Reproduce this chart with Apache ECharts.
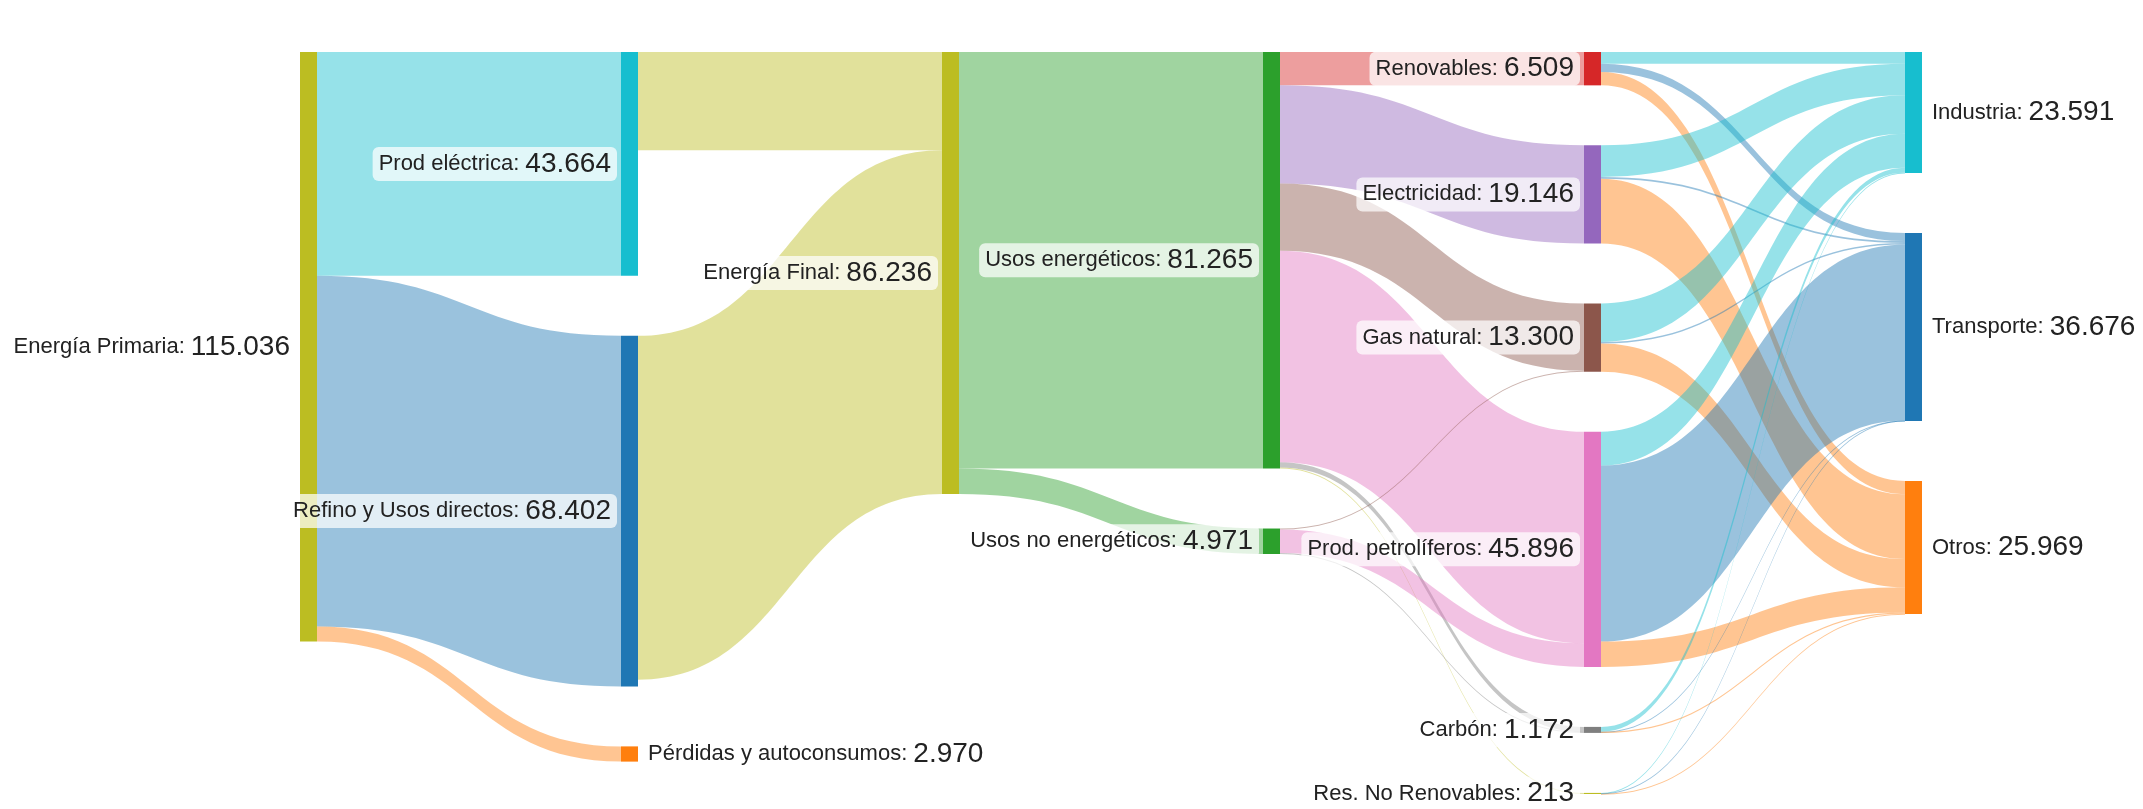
<!DOCTYPE html>
<html>
<head>
<meta charset="UTF-8">
<title>Balance energético</title>
<style>
    html, body { margin: 0; padding: 0; background: #fff; }
    #chartArea { width: 2143px; height: 809px; }
</style>
</head>
<body>
<div id="chartArea"></div>
<script src="https://cdn.jsdelivr.net/npm/echarts@6/dist/echarts.min.js"></script>
<script>
// nodes (ktep), listed column by column, top to bottom
var nodeNames = ['Energía Primaria', 'Prod eléctrica', 'Refino y Usos directos', 'Pérdidas y autoconsumos',
    'Energía Final', 'Usos energéticos', 'Usos no energéticos',
    'Renovables', 'Electricidad', 'Gas natural', 'Prod. petrolíferos', 'Carbón', 'Res. No Renovables',
    'Industria', 'Transporte', 'Otros'];
var nodeValues = [115036, 43664, 68402, 2970, 86236, 81265, 4971,
    6509, 19146, 13300, 45896, 1172, 213, 23591, 36676, 25969];

// links
var linkSources = [
    'Energía Primaria', 'Energía Primaria', 'Energía Primaria',
    'Prod eléctrica', 'Refino y Usos directos',
    'Energía Final', 'Energía Final',
    'Usos energéticos', 'Usos energéticos', 'Usos energéticos', 'Usos energéticos', 'Usos energéticos', 'Usos energéticos',
    'Usos no energéticos', 'Usos no energéticos', 'Usos no energéticos',
    'Renovables', 'Renovables', 'Renovables',
    'Electricidad', 'Electricidad', 'Electricidad',
    'Gas natural', 'Gas natural', 'Gas natural',
    'Prod. petrolíferos', 'Prod. petrolíferos', 'Prod. petrolíferos',
    'Carbón', 'Carbón', 'Carbón',
    'Res. No Renovables', 'Res. No Renovables', 'Res. No Renovables'
];
var linkTargets = [
    'Prod eléctrica', 'Refino y Usos directos', 'Pérdidas y autoconsumos',
    'Energía Final', 'Energía Final',
    'Usos energéticos', 'Usos no energéticos',
    'Renovables', 'Electricidad', 'Gas natural', 'Prod. petrolíferos', 'Carbón', 'Res. No Renovables',
    'Gas natural', 'Prod. petrolíferos', 'Carbón',
    'Industria', 'Transporte', 'Otros',
    'Industria', 'Transporte', 'Otros',
    'Industria', 'Transporte', 'Otros',
    'Industria', 'Transporte', 'Otros',
    'Industria', 'Transporte', 'Otros',
    'Industria', 'Transporte', 'Otros'
];
var linkValues = [
    43664, 68402, 2970,
    19146, 67090,
    81265, 4971,
    6509, 19146, 13100, 41297, 1000, 213,
    200, 4599, 172,
    2300, 1600, 2609,
    6160, 350, 12636,
    7500, 300, 5500,
    6600, 34346, 4950,
    950, 20, 202,
    81, 60, 72
];

var palette = {
    'Energía Primaria': '#bcbd22', 'Prod eléctrica': '#17becf', 'Refino y Usos directos': '#1f77b4',
    'Pérdidas y autoconsumos': '#ff7f0e', 'Energía Final': '#bcbd22', 'Usos energéticos': '#2ca02c',
    'Usos no energéticos': '#2ca02c', 'Renovables': '#d62728', 'Electricidad': '#9467bd',
    'Gas natural': '#8c564b', 'Prod. petrolíferos': '#e377c2', 'Carbón': '#7f7f7f',
    'Res. No Renovables': '#bcbd22', 'Industria': '#17becf', 'Transporte': '#1f77b4', 'Otros': '#ff7f0e'
};
// end nodes get their label on the right
var sinks = ['Pérdidas y autoconsumos', 'Industria', 'Transporte', 'Otros'];

function fmt(v) {
    return String(v).replace(/\B(?=(\d{3})+(?!\d))/g, '.');
}

var nodes = nodeNames.map(function (n, i) {
    var isSink = sinks.indexOf(n) >= 0;
    return {
        name: n,
        value: nodeValues[i],
        itemStyle: { color: palette[n] },
        label: { position: isSink ? 'right' : 'left' }
    };
});
var links = linkValues.map(function (v, i) {
    return { source: linkSources[i], target: linkTargets[i], value: v };
});

var myChart = echarts.init(document.getElementById('chartArea'));
myChart.setOption({
    animation: false,
    series: [{
        type: 'sankey',
        left: 300,
        right: 221,
        top: 52,
        bottom: 15,
        nodeWidth: 17,
        nodeGap: 60,
        nodeAlign: 'left',
        // keep the given order in every column
        layoutIterations: 0,
        draggable: false,
        emphasis: { disabled: true },
        data: nodes,
        links: links,
        itemStyle: { borderWidth: 0 },
        lineStyle: { color: 'target', opacity: 0.45, curveness: 0.5 },
        label: {
            distance: 4,
            fontFamily: 'Liberation Sans',
            color: '#222',
            backgroundColor: 'rgba(255,255,255,0.72)',
            borderRadius: 6,
            padding: [3, 6, 3, 6],
            formatter: function (p) {
                return '{n|' + p.name + ': }{v|' + fmt(p.value) + '}';
            },
            rich: {
                n: { fontSize: 22, fontFamily: 'Liberation Sans', color: '#222' },
                v: { fontSize: 28, fontFamily: 'Liberation Sans', color: '#222' }
            }
        }
    }]
});
</script>
</body>
</html>
